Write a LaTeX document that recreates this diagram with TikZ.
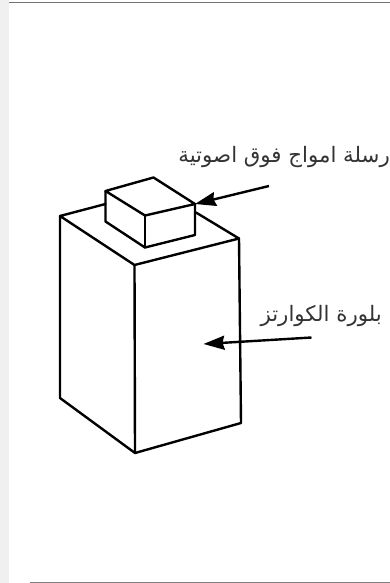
\documentclass[tikz,border=0pt]{standalone}
\usepackage{fontspec}
\usetikzlibrary{arrows.meta}
\TeXXeTstate=1
\newfontfamily\arabicfont[Script=Arabic]{DejaVu Sans}
\begin{document}
\begin{tikzpicture}
[
    x=1pt, y=-1pt,
    edge/.style={line width=2.4pt, line join=round, line cap=round, black},
    pointer/.style={line width=2.4pt, black, -{Stealth[length=21pt,width=14pt,inset=2pt]}},
    label/.style={inner sep=0pt, font=\arabicfont\fontsize{21.3}{24}\selectfont, black!80}
]
    \useasboundingbox (0,0) rectangle (390,583);
    % page edges
    \fill [black!6] (0,0) rectangle (8.5,583);
    \draw [black!55, line width=1.2pt] (9,2.5) -- (390,2.5);
    \draw [black!50, line width=1.2pt] (30,582.5) -- (390,582.5);
    % small box
    \coordinate (capa) at (105.5,191);
    \coordinate (capb) at (153.5,177.5);
    \coordinate (capc) at (195,204);
    \coordinate (capd) at (145,215.5);
    \coordinate (cape) at (145,247.5);
    \coordinate (capf) at (195,235);
    \coordinate (capg) at (105.5,221.5);
    % large box
    \coordinate (boxa) at (60,216);
    \coordinate (boxb) at (134.5,265);
    \coordinate (boxc) at (239,238.5);
    \coordinate (boxd) at (60,398);
    \coordinate (boxe) at (135,453);
    \coordinate (boxf) at (241,423);
    \coordinate (boxg) at (105.5,204);
    \coordinate (boxh) at (196,212.5);
    \draw [edge] (capa) -- (capb) -- (capc) -- (capd) -- cycle;
    \draw [edge] (capa) -- (capg) -- (cape) -- (capf) -- (capc);
    \draw [edge] (capd) -- (cape);
    \draw [edge] (boxg) -- (boxa) -- (boxb) -- (boxc) -- (boxh);
    \draw [edge] (boxa) -- (boxd) -- (boxe) -- (boxf) -- (boxc);
    \draw [edge] (boxb) -- (boxe);
    % labels
    \node (transmitter) [label, anchor=base east] at (390,162) {\beginR رسلة امواج فوق اصوتية\endR};
    \node (crystal) [label, anchor=base east] at (382,321) {\beginR بلورة الكوارتز\endR};
    \coordinate (transmittertail) at (269,186);
    \coordinate (crystaltail) at (311.5,337.5);
    \coordinate (crystaltip) at (203.5,344);
    \draw [pointer] (transmittertail) -- (capc);
    \draw [pointer] (crystaltail) -- (crystaltip);
\end{tikzpicture}
\end{document}
